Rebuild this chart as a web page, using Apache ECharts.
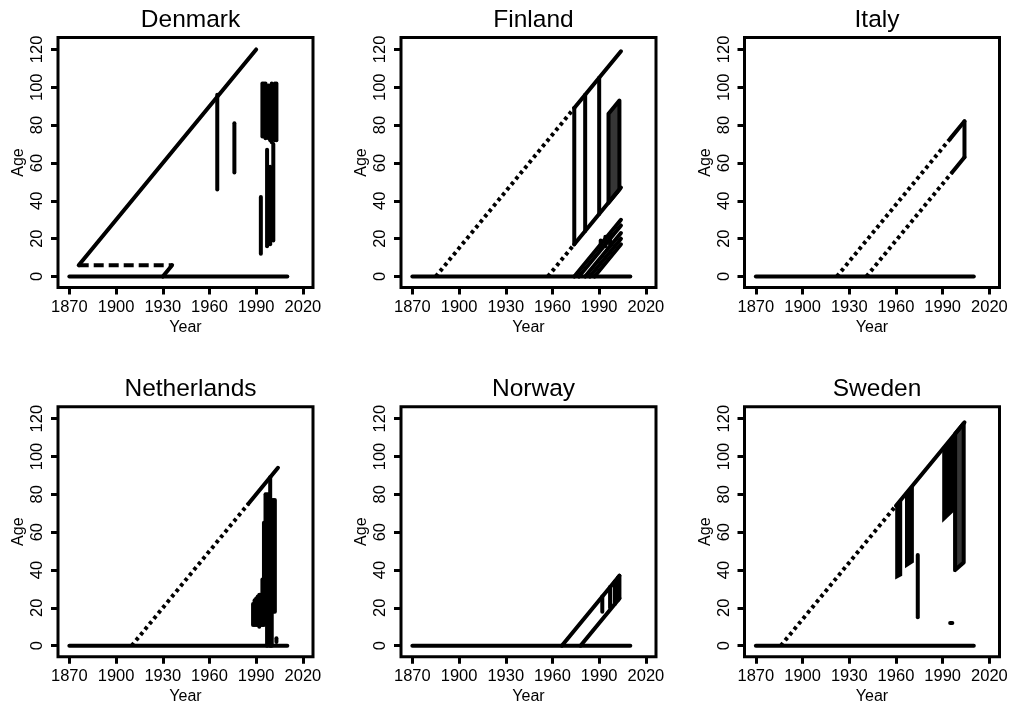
<!DOCTYPE html>
<html>
<head>
<meta charset="utf-8">
<script src="https://cdn.jsdelivr.net/npm/echarts@6/dist/echarts.min.js"></script>
<style>
html,body{margin:0;padding:0;background:#fff;}
#chart{width:1012px;height:707px;}
</style>
</head>
<body>
<div id="chart"></div>
<script>
// ---- tick labels ----
const xTicks = [1870, 1900, 1930, 1960, 1990, 2020];
const yTicks = [0, 20, 40, 60, 80, 100, 120];
const countries = ['Denmark', 'Finland', 'Italy', 'Netherlands', 'Norway', 'Sweden'];

// ---- Denmark ----
const denmarkSolid = [
  [[1870,0],[2010,0]],
  [[1876,6],[1990,120]],
  [[1930,0],[1936,6]],
  [[1965,46],[1965,96]],
  [[1976,55],[1976,81]],
  [[1993,12],[1993,42]],
  [[1994,74],[1994,102]],
  [[1995,74],[1995,102]],
  [[1996,73],[1996,102]],
  [[1997,16],[1997,67]],
  [[1997,74],[1997,100]],
  [[1998,73],[1998,101]],
  [[1999,17],[1999,58]],
  [[1999,72],[1999,100]],
  [[2000,71],[2000,102]],
  [[2001,19],[2001,70]],
  [[2002,72],[2002,102]],
  [[2003,72],[2003,102]]
];
const denmarkDashed = [[[1876,6],[1936,6]]];
const denmarkDotted = [];
const denmarkBlack = [];
const denmarkGrey = [];

// ---- Finland ----
const finlandSolid = [
  [[1870,0],[2010,0]],
  [[1974,89],[2004,119]],
  [[1974,17],[2004,47]],
  [[1974,17],[1974,89]],
  [[1981,24],[1981,96]],
  [[1990,33],[1990,105]],
  [[1974,0],[2004,30]],
  [[1977,0],[2004,27]],
  [[1981,0],[2004,23]],
  [[1984,0],[2004,20]],
  [[1987,0],[2004,17]],
  [[1991,15],[1991,19]],
  [[1994,16],[1994,21]],
  [[1997,17],[1997,22]]
];
const finlandDashed = [];
const finlandDotted = [
  [[1885,0],[1974,89]],
  [[1957,0],[1974,17]]
];
const finlandBlack = [];
const finlandGrey = [
  [[1996,39],[1996,86],[2003,93],[2003,46]]
];

// ---- Italy ----
const italySolid = [
  [[1870,0],[2010,0]],
  [[1995,73],[2004,82]],
  [[2004,82],[2004,63]],
  [[1996,55],[2004,63]]
];
const italyDashed = [];
const italyDotted = [
  [[1922,0],[1995,73]],
  [[1941,0],[1996,55]]
];
const italyBlack = [];
const italyGrey = [];

// ---- Netherlands ----
const netherlandsSolid = [
  [[1870,0],[2010,0]],
  [[1985,75],[2004,94]],
  [[1988,11],[1988,22]],
  [[1989,11],[1989,24]],
  [[1990,11],[1990,25]],
  [[1991,11],[1991,26]],
  [[1992,10],[1992,27]],
  [[1993,11],[1993,27]],
  [[1994,11],[1994,35]],
  [[1995,11],[1995,65]],
  [[1996,14],[1996,80]],
  [[1997,0],[1997,80]],
  [[1998,14],[1998,80]],
  [[1999,0],[1999,89]],
  [[2000,0],[2000,77]],
  [[2001,18],[2001,77]],
  [[2002,18],[2002,77]],
  [[2003,2],[2003,4]]
];
const netherlandsDashed = [];
const netherlandsDotted = [[[1910,0],[1985,75]]];
const netherlandsBlack = [];
const netherlandsGrey = [];

// ---- Norway ----
const norwaySolid = [
  [[1870,0],[2010,0]],
  [[1966,0],[2003,37]],
  [[1978,0],[2003,25]],
  [[1992,18],[1992,26]],
  [[1997,20],[1997,31]],
  [[2000,22],[2000,34]],
  [[2002,24],[2002,36]],
  [[2003,25],[2003,37]]
];
const norwayDashed = [];
const norwayDotted = [];
const norwayBlack = [];
const norwayGrey = [];

// ---- Sweden ----
const swedenSolid = [
  [[1870,0],[2010,0]],
  [[1960,74],[2004,118]],
  [[1974,15],[1974,48]],
  [[1994.8,12],[1996.2,12]]
];
const swedenDashed = [];
const swedenDotted = [[[1886,0],[1960,74]]];
const swedenBlack = [
  [[1959.5,35],[1959.5,74],[1964,78],[1964,37]],
  [[1965.8,41],[1965.8,80],[1971.5,85.5],[1971.5,44]],
  [[1989.7,65],[1989.7,104],[1997.5,111.5],[1997.5,71]],
  [[1997,39],[1997,72],[1998.5,72],[1998.5,39]]
];
const swedenGrey = [
  [[1998,40],[1998,112],[2003.5,117.5],[2003.5,44]]
];

const panels = [
  {solid: denmarkSolid, dashed: denmarkDashed, dotted: denmarkDotted, black: denmarkBlack, grey: denmarkGrey},
  {solid: finlandSolid, dashed: finlandDashed, dotted: finlandDotted, black: finlandBlack, grey: finlandGrey},
  {solid: italySolid, dashed: italyDashed, dotted: italyDotted, black: italyBlack, grey: italyGrey},
  {solid: netherlandsSolid, dashed: netherlandsDashed, dotted: netherlandsDotted, black: netherlandsBlack, grey: netherlandsGrey},
  {solid: norwaySolid, dashed: norwayDashed, dotted: norwayDotted, black: norwayBlack, grey: norwayGrey},
  {solid: swedenSolid, dashed: swedenDashed, dotted: swedenDotted, black: swedenBlack, grey: swedenGrey}
];

// ---- layout ----
const FONT = "'Liberation Sans', Arial, Helvetica, sans-serif";
const colLeft = [58, 401, 744.5];
const rowTop = [37.5, 406.7];
const GW = 255, GH = 250;
const LW = 4;

const grids = [], xAxes = [], yAxes = [], titles = [], series = [];
countries.forEach((name, i) => {
  const left = colLeft[i % 3], top = rowTop[Math.floor(i / 3)];
  grids.push({left: left, top: top, width: GW, height: GH, show: true,
    borderColor: '#000', borderWidth: 3, backgroundColor: 'transparent'});
  titles.push({text: name, left: left + GW / 2, top: top - 35, textAlign: 'center',
    textStyle: {fontFamily: FONT, fontSize: 24.5, fontWeight: 'normal', color: '#000'}});
  xAxes.push({type: 'value', gridIndex: i, min: 1862.7, max: 2026.5,
    name: 'Year', nameLocation: 'middle', nameGap: 32,
    nameTextStyle: {fontFamily: FONT, fontSize: 16, color: '#000'},
    axisLine: {show: false, onZero: false},
    axisTick: {show: true, customValues: xTicks, length: 7, lineStyle: {color: '#000', width: 3}},
    axisLabel: {show: true, customValues: xTicks, margin: 11, fontFamily: FONT, fontSize: 16.5, color: '#000',
      formatter: v => String(v)},
    splitLine: {show: false}});
  yAxes.push({type: 'value', gridIndex: i, min: -5.8, max: 126.3,
    name: 'Age', nameLocation: 'middle', nameGap: 31, nameRotate: 90,
    nameTextStyle: {fontFamily: FONT, fontSize: 16, color: '#000'},
    axisLine: {show: false, onZero: false},
    axisTick: {show: true, customValues: yTicks, length: 7, lineStyle: {color: '#000', width: 3}},
    axisLabel: {show: true, customValues: yTicks, rotate: 90, margin: 12, fontFamily: FONT, fontSize: 16.5, color: '#000',
      formatter: v => String(v)},
    splitLine: {show: false}});

  const p = panels[i];
  const polySeries = (polys, fill, stroke) => ({
    type: 'custom', xAxisIndex: i, yAxisIndex: i, silent: true, animation: false, z: 2,
    data: polys.map(pl => pl[0]),
    renderItem: (params, api) => {
      const pts = polys[params.dataIndex].map(pt => api.coord(pt));
      return {type: 'polygon', shape: {points: pts},
        style: {fill: fill, stroke: stroke, lineWidth: stroke ? LW : 0, lineJoin: 'round'}};
    }
  });
  if (p.black.length) series.push(polySeries(p.black, '#000', null));
  if (p.grey.length) series.push(polySeries(p.grey, '#363636', '#000'));
  const lineSeries = (segs, type, cap) => ({
    type: 'lines', coordinateSystem: 'cartesian2d', xAxisIndex: i, yAxisIndex: i,
    polyline: true, silent: true, animation: false, z: 3,
    data: segs.map(s => ({coords: s})),
    lineStyle: {color: '#000', width: LW, opacity: 1, type: type, cap: cap, join: 'round', curveness: 0}
  });
  if (p.solid.length) series.push(lineSeries(p.solid, 'solid', 'round'));
  if (p.dashed.length) series.push(lineSeries(p.dashed, [10, 5], 'butt'));
  if (p.dotted.length) series.push(lineSeries(p.dotted, [3.5, 3.5], 'butt'));
});

const chart = echarts.init(document.getElementById('chart'), null, {renderer: 'canvas'});
chart.setOption({
  animation: false,
  backgroundColor: '#fff',
  title: titles,
  grid: grids,
  xAxis: xAxes,
  yAxis: yAxes,
  series: series
});
</script>
</body>
</html>
